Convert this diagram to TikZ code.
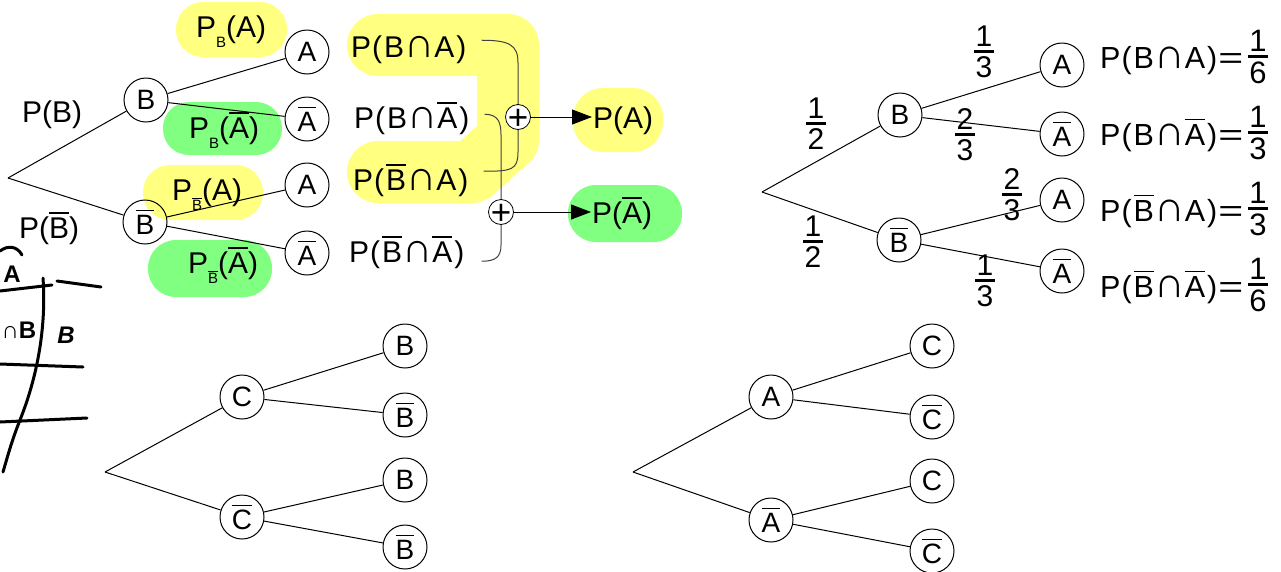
\documentclass[tikz,border=0pt]{standalone}
\usepackage{fontspec}
\setmainfont{Liberation Sans}
\usepackage{graphicx}
\usetikzlibrary{arrows.meta,calc}
\definecolor{hly}{HTML}{FFFF80}
\definecolor{hlg}{HTML}{80FF80}
\newcommand\ovl[1]{\leavevmode\vbox{\hrule height 0.05em\kern0.12em\hbox{#1}}}
\newcommand\subx[1]{\raisebox{-0.36em}{\fontsize{15}{15}\selectfont #1}}
\newcommand\myfrac[2]{\vbox{\halign{\hfil\kern1.5pt##\kern1.5pt\hfil\cr#1\cr\noalign{\kern3.5pt\hrule height 2.5pt\kern4pt}#2\cr}}}
\newcommand\capx{\scalebox{1.4}{∩}}
\newcommand\Pc[2]{P\kern1pt(\kern2pt#1\capx#2\kern2pt)}
\newcommand\Pq[2]{\Pc{#1}{#2}\kern1pt\scalebox{1.4}[1]{=}}
\newcommand\plus{\smash{\makebox[0pt]{\raisebox{-0.354em}{+}}}}
\tikzset{
 cnode/.style={circle,draw,line width=1pt,minimum size=44pt,inner sep=0pt,font=\fontsize{28}{32}\selectfont},
 edge/.style={line width=1pt},
 lab/.style={inner sep=1pt,font=\fontsize{30}{34}\selectfont},
 rlab/.style={inner sep=1pt,font=\fontsize{30.5}{34}\selectfont},
 frc/.style={inner sep=0pt,font=\fontsize{30}{32}\selectfont},
 frc2/.style={inner sep=0pt,font=\fontsize{31}{32}\selectfont},
 conn/.style={line width=1pt,black!75},
 pnode/.style={circle,draw,fill=white,minimum size=25pt,inner sep=0pt,line width=0.8pt,font=\fontsize{35}{35}\selectfont},
 arr/.style={-{Triangle[length=20pt,width=15pt]},line width=1pt},
 hand/.style={line width=3pt,line cap=round,line join=round},
 htext/.style={inner sep=0pt,font=\fontsize{24}{24}\selectfont\bfseries},
}
\begin{document}
\begin{tikzpicture}[x=1pt,y=-1pt]
\useasboundingbox (0,0) rectangle (1281,571);
% highlights
\fill[hly, rounded corners=27pt] (176,2) rectangle (287,57);
\fill[hlg, rounded corners=26pt] (163,102) rectangle (282,155);
\fill[hly, rounded corners=27pt] (143,165) rectangle (263,220);
\fill[hlg, rounded corners=28pt] (148,240) rectangle (272,297);
\draw[hly, line width=62pt, line cap=round, line join=round] (378,45) -- (508,45) -- (508,140) -- (472,172) -- (378,172);
\fill[hly, rounded corners=30pt] (573,88) rectangle (663,152);
\fill[hlg, rounded corners=28pt] (568,185) rectangle (682,242);

% top-left tree
\coordinate (r1) at (8,178);
\node[cnode] (b1) at (146,100) {B};
\node[cnode] (nb1) at (145,222) {\ovl{B}};
\node[cnode] (a1) at (307,52) {A};
\node[cnode] (na1) at (307,119) {\ovl{A}};
\node[cnode] (a2) at (307,185) {A};
\node[cnode] (na2) at (307,253) {\ovl{A}};
\node[lab,anchor=base] (lpb) at (52,122) {P(B)};
\node[lab,anchor=base] (lpnb) at (49,238) {P(\ovl{B})};
\node[lab,anchor=base] (l1) at (231,37) {P\subx{B}(A)};
\node[lab,anchor=base] (l2) at (224,138) {P\subx{B}(\ovl{A})};
\node[lab,anchor=base] (l3) at (207,200) {P\subx{\ovl{B}}(A)};
\node[lab,anchor=base] (l4) at (223,273) {P\subx{\ovl{B}}(\ovl{A})};
\draw[edge] (r1) -- (b1);
\draw[edge] (r1) -- (nb1);
\draw[edge] (b1) -- (a1);
\draw[edge] (b1) -- (na1);
\draw[edge] (nb1) -- (a2);
\draw[edge] (nb1) -- (na2);

% products
\node[lab,anchor=base west] (t1) at (350,57) {\Pc{B}{A}};
\node[lab,anchor=base west] (t2) at (353,128) {\Pc{B}{\ovl{A}}};
\node[lab,anchor=base west] (t3) at (352,190) {\Pc{\ovl{B}}{A}};
\node[lab,anchor=base west] (t4) at (348,262) {\Pc{\ovl{B}}{\ovl{A}}};
\node[lab,anchor=base west] (pa) at (592,128) {P(A)};
\node[lab,anchor=base west] (pna) at (591,223) {P(\ovl{A})};
\coordinate (s1c) at (518,117);
\coordinate (s2c) at (501,212);
\coordinate (k1) at (518,63);
\coordinate (k2) at (518,152);
\coordinate (k3) at (501,135);
\coordinate (k4) at (501,245);
\draw[conn] ($(t1.east)+(14,-9)$) .. controls +(28,0) and +(0,-18) .. (k1) -- (k2) .. controls +(0,18) and +(28,0) .. ($(t3.east)+(14,-9)$);
\draw[conn] ($(t2.east)+(14,-4)$) .. controls +(14,0) and +(0,-12) .. (k3) -- (k4) .. controls +(0,12) and +(14,0) .. ($(t4.east)+(16,9)$);
\node[pnode] (s1) at (s1c) {\plus};
\node[pnode] (s2) at (s2c) {\plus};
\draw[arr] (s1) -- (s1 -| pa.west);
\draw[arr] (s2) -- (s2 -| pna.west);

% top-right tree
\coordinate (r2) at (762,192);
\node[cnode] (b2) at (900,115) {B};
\node[cnode] (nb2) at (899,240) {\ovl{B}};
\node[cnode] (a3) at (1062,65) {A};
\node[cnode] (na3) at (1062,134) {\ovl{A}};
\node[cnode] (a4) at (1062,200) {A};
\node[cnode] (na4) at (1062,271) {\ovl{A}};
\draw[edge] (r2) -- (b2);
\draw[edge] (r2) -- (nb2);
\draw[edge] (b2) -- (a3);
\draw[edge] (b2) -- (na3);
\draw[edge] (nb2) -- (a4);
\draw[edge] (nb2) -- (na4);
\node[frc] (f1) at (816,124) {\myfrac{1}{2}};
\node[frc] (f2) at (813,242) {\myfrac{1}{2}};
\node[frc] (f3) at (984,52) {\myfrac{1}{3}};
\node[frc] (f4) at (965,135) {\myfrac{2}{3}};
\node[frc] (f5) at (1012,195) {\myfrac{2}{3}};
\node[frc] (f6) at (985,281) {\myfrac{1}{3}};
\node[rlab,anchor=base west] (e1) at (1099,68) {\Pq{B}{A}};
\node[rlab,anchor=base west] (e2) at (1099,145) {\Pq{B}{\ovl{A}}};
\node[rlab,anchor=base west] (e3) at (1099,221) {\Pq{\ovl{B}}{A}};
\node[rlab,anchor=base west] (e4) at (1099,297) {\Pq{\ovl{B}}{\ovl{A}}};
\node[frc2] (g1) at (1258,57) {\myfrac{1}{6}};
\node[frc2] (g2) at (1258,133) {\myfrac{1}{3}};
\node[frc2] (g3) at (1258,209) {\myfrac{1}{3}};
\node[frc2] (g4) at (1258,285) {\myfrac{1}{6}};

% bottom-left tree
\coordinate (r3) at (105,472);
\node[cnode] (c5) at (242,397) {C};
\node[cnode] (nc5) at (242,517) {\ovl{C}};
\node[cnode] (b5) at (405,346) {B};
\node[cnode] (nb5) at (405,415) {\ovl{B}};
\node[cnode] (b6) at (405,480) {B};
\node[cnode] (nb6) at (405,547) {\ovl{B}};
\draw[edge] (r3) -- (c5);
\draw[edge] (r3) -- (nc5);
\draw[edge] (c5) -- (b5);
\draw[edge] (c5) -- (nb5);
\draw[edge] (nc5) -- (b6);
\draw[edge] (nc5) -- (nb6);

% bottom-right tree
\coordinate (r4) at (633,472);
\node[cnode] (a7) at (771,397) {A};
\node[cnode] (na7) at (771,520) {\ovl{A}};
\node[cnode] (c7) at (932,346) {C};
\node[cnode] (nc7) at (932,417) {\ovl{C}};
\node[cnode] (c8) at (932,481) {C};
\node[cnode] (nc8) at (932,551) {\ovl{C}};
\draw[edge] (r4) -- (a7);
\draw[edge] (r4) -- (na7);
\draw[edge] (a7) -- (c7);
\draw[edge] (a7) -- (nc7);
\draw[edge] (na7) -- (c8);
\draw[edge] (na7) -- (nc8);

% handwriting
\draw[hand] (0,251) .. controls (8,245) and (17,246) .. (22,255);
\node[htext] (hA) at (12,274) {A};
\draw[hand] (0,291) -- (52,285);
\draw[hand] (57,281) -- (101,287);
\draw[hand] (43,278) .. controls (46,320) and (40,370) .. (20,420) .. controls (12,440) and (8,455) .. (3,472);
\draw[hand] (0,364) -- (83,367);
\draw[hand] (0,422) -- (87,418);
\node[htext] (hAB) at (19,330) {∩B};
\node[htext,font=\fontsize{24}{24}\selectfont\bfseries\itshape] (hB) at (66,335) {B};
\end{tikzpicture}
\end{document}
